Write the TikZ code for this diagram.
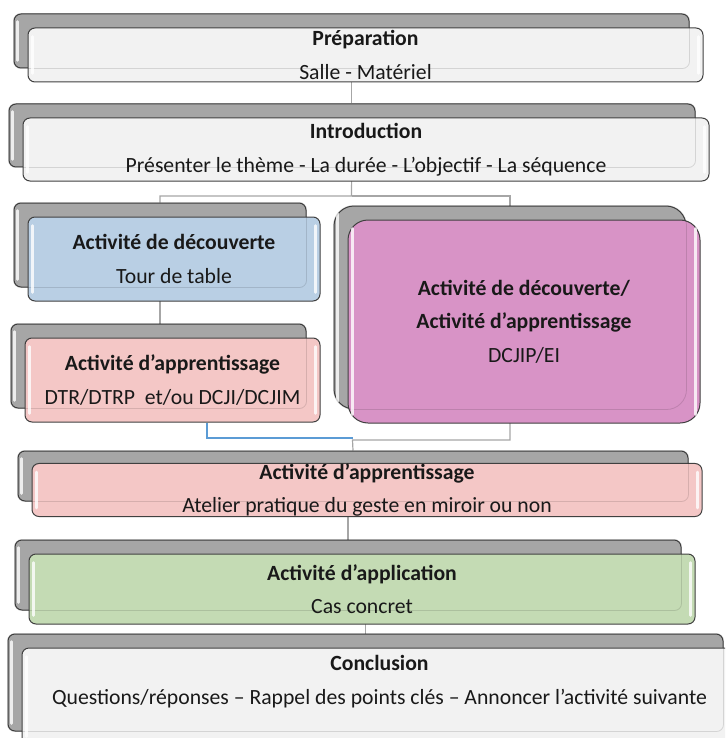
\documentclass[tikz,border=0pt]{standalone}
\usepackage{fontspec}
\setmainfont{Carlito}
\usetikzlibrary{backgrounds}

\definecolor{grisclair}{HTML}{F2F2F2}
\definecolor{bleuclair}{HTML}{B9CFE4}
\definecolor{roseclair}{HTML}{F4C7C6}
\definecolor{mauve}{HTML}{D893C6}
\definecolor{vertclair}{HTML}{C4DBB4}
\definecolor{grisombre}{HTML}{A6A6A6}
\definecolor{bordfonce}{HTML}{404040}
\definecolor{bleulien}{HTML}{5B9BD5}

% #1 radius, #2 name, (#3,#4) top left, (#5,#6) bottom right, #7 fill, #8 text
\newcommand{\etape}[8][7pt]{%
  \node[ombre, rounded corners=#1, minimum width={#5-#3}, minimum height={#6-#4}]
    (#2-o) at ({(#3+#5)/2-14},{(#4+#6)/2-14}) {};
  \draw[reflet] ([shift={(4,8)}]#2-o.north west) -- ([shift={(4,-8)}]#2-o.south west);
  \node[etape, rounded corners=#1, fill=#7, minimum width={#5-#3}, minimum height={#6-#4}]
    (#2) at ({(#3+#5)/2},{(#4+#6)/2}) {#8};
  \draw[trace, rounded corners=#1] (#2-o.north west) rectangle (#2-o.south east);
  \draw[reflet] ([shift={(5,9)}]#2.north west) -- ([shift={(5,-9)}]#2.south west);
  \draw[reflet] ([shift={(-5,9)}]#2.north east) -- ([shift={(-5,-9)}]#2.south east);
}

\begin{document}
\begin{tikzpicture}[x=1pt, y=-1pt]
    \tikzset{
      ombre/.style={draw=bordfonce, fill=grisombre, line width=1pt, inner sep=0pt},
      etape/.style={draw=bordfonce, line width=1pt, inner sep=0pt, align=center,
        text=black!90, font=\fontsize{21.7}{33.5}\selectfont},
      trace/.style={draw=black, opacity=0.12, line width=0.8pt},
      reflet/.style={draw=white, line width=2.5pt, line cap=round, opacity=0.8},
      lien/.style={draw=grisombre, line width=1.2pt},
      lienbleu/.style={draw=bleulien, line width=1.2pt}
    }
    \useasboundingbox (0,0) rectangle (725,738);
    \clip (0,0) rectangle (725,738);

    \etape{prep}{28}{28}{703}{82}{grisclair}
      {\textbf{Préparation}\\ Salle - Matériel}
    \etape{intro}{23}{118}{709}{181}{grisclair}
      {\textbf{Introduction}\\ Présenter le thème - La durée - L’objectif - La séquence}
    \etape{decouv}{28}{217}{320}{301}{bleuclair}
      {\textbf{Activité de découverte}\\ Tour de table}
    \etape{appr}{25}{338}{320}{422}{roseclair}
      {\textbf{Activité d’apprentissage}\\ DTR/DTRP\ \ et/ou DCJI/DCJIM}
    \etape[20pt]{mixte}{348}{220}{700}{423}{mauve}
      {\textbf{Activité de découverte/}\\ \textbf{Activité d’apprentissage}\\ DCJIP/EI}
    \etape{atelier}{32}{465}{702}{515}{roseclair}
      {\textbf{Activité d’apprentissage}\\ Atelier pratique du geste en miroir ou non}
    \etape{appli}{29}{554}{695}{624}{vertclair}
      {\textbf{Activité d’application}\\ Cas concret}
    \etape{concl}{22}{648}{737}{745}{grisclair}
      {\textbf{Conclusion}\\ Questions/réponses – Rappel des points clés – Annoncer l’activité suivante\\ ~}

    \coordinate (fourche1) at (351.5,196);
    \coordinate (fourche2) at (352.5,438);
    \coordinate (fourche3) at (352.5,440);

    \begin{scope}[on background layer]
    \draw[lien] (prep-o.center) -- (prep-o.center |- intro-o.north);
    \draw[lien] (intro-o.center) -- (fourche1) -| (decouv-o.north);
    \draw[lien] (fourche1) -| (mixte-o.north);
    \draw[lien] (decouv-o.center) -- (decouv-o.center |- appr-o.north);
    \draw[lienbleu] ([xshift=34.5pt]appr.south) |- (fourche2);
    \draw[lien] (mixte-o.center) |- (fourche3) -- (atelier-o.north);
    \draw[lien] (atelier-o.south) -- ++(0,14) -| (appli-o.north);
    \draw[lien] (appli-o.south) -- ++(0,7) -| (concl-o.north);
    \end{scope}
\end{tikzpicture}
\end{document}
